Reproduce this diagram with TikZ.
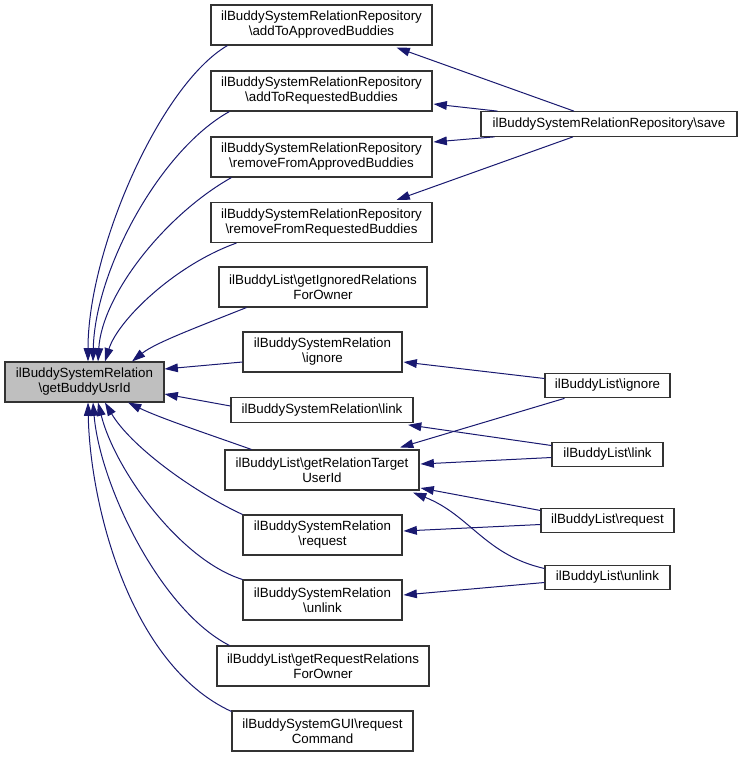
\documentclass[tikz,border=0pt]{standalone}
\usepackage{fontspec}
\setmainfont{Liberation Sans}
\usetikzlibrary{arrows.meta,calc}
\definecolor{edgeblue}{RGB}{25,25,112}
\definecolor{mainfill}{RGB}{191,191,191}
\newcommand{\bsl}{\textbackslash}

\begin{document}
\begin{tikzpicture}[x=0.75pt,y=-0.75pt,
  fn/.style={draw=black!80,line width=0.8pt,fill=white,align=center,inner sep=0pt,
    font=\fontsize{10}{11.25}\selectfont,minimum height=30pt},
  fnone/.style={fn,minimum height=18.5pt},
  call/.style={draw=edgeblue,line width=0.75pt,-{Triangle[length=10pt,width=6.5pt]}}]
\useasboundingbox (0,0) rectangle (740,757);
% ---- the function itself ----
\node[fn,fill=mainfill,minimum width=119.25pt] (main) at (84.5,382)
  {ilBuddySystemRelation\\\bsl getBuddyUsrId};
% ---- direct callers ----
\node[fn,minimum width=165.75pt] (aab) at (321.5,25)
  {ilBuddySystemRelationRepository\\\bsl addToApprovedBuddies};
\node[fn,minimum width=165.75pt] (arb) at (321.5,91)
  {ilBuddySystemRelationRepository\\\bsl addToRequestedBuddies};
\node[fn,minimum width=165.75pt] (rab) at (321.5,157)
  {ilBuddySystemRelationRepository\\\bsl removeFromApprovedBuddies};
\node[fn,minimum width=165.75pt] (rrb) at (321.5,222.5)
  {ilBuddySystemRelationRepository\\\bsl removeFromRequestedBuddies};
\node[fn,minimum width=156pt] (gir) at (323,287)
  {ilBuddyList\bsl getIgnoredRelations\\ForOwner};
\node[fn,minimum width=119.25pt] (ign) at (322.5,352)
  {ilBuddySystemRelation\\\bsl ignore};
\node[fnone,minimum width=136.5pt] (lnk) at (322,410)
  {ilBuddySystemRelation\bsl link};
\node[fn,minimum width=145.5pt] (grt) at (322,470)
  {ilBuddyList\bsl getRelationTarget\\UserId};
\node[fn,minimum width=119.25pt] (req) at (322.5,535)
  {ilBuddySystemRelation\\\bsl request};
\node[fn,minimum width=119.25pt] (unl) at (322.5,600)
  {ilBuddySystemRelation\\\bsl unlink};
\node[fn,minimum width=159pt] (grr) at (323,666)
  {ilBuddyList\bsl getRequestRelations\\ForOwner};
\node[fn,minimum width=135.75pt] (rqc) at (322.5,731)
  {ilBuddySystemGUI\bsl request\\Command};
% ---- second level callers ----
\node[fnone,minimum width=192pt] (save) at (609,124)
  {ilBuddySystemRelationRepository\bsl save};
\node[fnone,minimum width=93.75pt] (bli) at (607.5,385.5) {ilBuddyList\bsl ignore};
\node[fnone,minimum width=83.25pt] (bll) at (607.5,454.5) {ilBuddyList\bsl link};
\node[fnone,minimum width=99.75pt] (blr) at (607.5,520.5) {ilBuddyList\bsl request};
\node[fnone,minimum width=93.75pt] (blu) at (607.5,577.5) {ilBuddyList\bsl unlink};
% ---- calls into getBuddyUsrId (from above) ----
\draw[call] ($(aab.south west)+(17,0)$) .. controls (160,85) and (88,250) .. ($(main.north)+(3.5,0)$);
\draw[call] ($(arb.south west)+(19,0)$) .. controls (160,150) and (95,270) .. ($(main.north)+(8.5,0)$);
\draw[call] ($(rab.south west)+(21,0)$) .. controls (165,215) and (102,295) .. ($(main.north)+(13.5,0)$);
\draw[call] ($(rrb.south west)+(26,0)$) .. controls (175,265) and (118,320) .. ($(main.north)+(20.5,0)$);
\draw[call] ($(gir.south west)+(28,0)$) .. controls (195,328) and (155,343) .. ($(main.north)+(47.5,0)$);
\draw[call] ($(ign.west)+(0,10)$) -- ($(main.east)+(0,-13)$);
\draw[call] ($(lnk.west)+(0,-4)$) -- ($(main.east)+(0,12)$);
% ---- calls into getBuddyUsrId (from below) ----
\draw[call] ($(grt.north west)+(27,0)$) .. controls (205,433) and (160,418) .. ($(main.south)+(43.5,0)$);
\draw[call] (req.north west) .. controls (190,490) and (130,445) .. ($(main.south)+(20.5,0)$);
\draw[call] (unl.north west) .. controls (180,560) and (115,470) .. ($(main.south)+(13.5,0)$);
\draw[call] ($(grr.north west)+(13,0)$) .. controls (160,610) and (100,485) .. ($(main.south)+(8.5,0)$);
\draw[call] ($(rqc.north west)+(0,1)$) .. controls (130,665) and (90,505) .. ($(main.south)+(3.5,0)$);
% ---- save ----
\draw[call] ($(save.north)+(-35,0)$) -- ($(aab.south)+(75,2)$);
\draw[call] ($(save.north west)+(17,0)$) -- ($(arb.east)+(1,13)$);
\draw[call] ($(save.south west)+(14,0)$) -- ($(rab.east)+(1,-15)$);
\draw[call] ($(save.south)+(-36,0)$) -- ($(rrb.north)+(75,-2)$);
% ---- ilBuddyList callers ----
\draw[call] ($(bli.west)+(0,-7)$) -- ($(ign.east)+(1,10)$);
\draw[call] ($(bli.south west)+(20,0)$) -- ($(grt.north)+(78,-2)$);
\draw[call] ($(bll.west)+(0,-9)$) -- ($(lnk.south)+(86,2)$);
\draw[call] ($(bll.west)+(0,3)$) -- ($(grt.east)+(1,-6)$);
\draw[call] ($(blr.west)+(0,-10)$) -- ($(grt.east)+(1,18)$);
\draw[call] ($(blr.west)+(0,4)$) -- ($(req.east)+(1,-4)$);
\draw[call] ($(blu.west)+(0,-9)$) .. controls (485,555) and (470,515) .. ($(grt.south)+(91,2)$);
\draw[call] ($(blu.west)+(0,5)$) -- ($(unl.east)+(1,-5)$);
\end{tikzpicture}
\end{document}
